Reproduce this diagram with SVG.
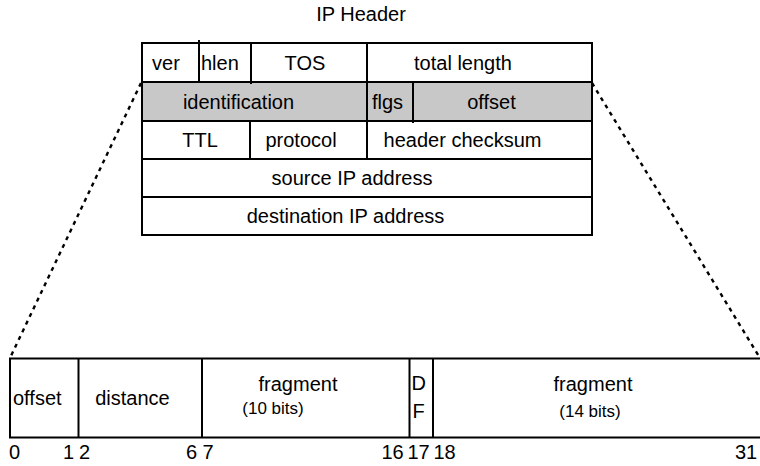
<svg xmlns="http://www.w3.org/2000/svg" width="760" height="466" viewBox="0 0 760 466">
  <style>
    text { font-family: "Liberation Sans", Arial, sans-serif; font-size: 20px; fill: #000; }
    .c { text-anchor: middle; }
    .small { font-size: 17px; }
    .box { fill: #fff; stroke: #000; stroke-width: 2; }
    .shade { fill: #c8c8c8; stroke: #000; stroke-width: 2; }
    .div { stroke: #000; stroke-width: 2; fill: none; }
    .zoom { stroke: #000; stroke-width: 2.4; stroke-dasharray: 4 4.5; fill: none; }
  </style>

  <!-- title -->
  <g id="title">
    <text x="361" y="21" class="c">IP Header</text>
  </g>

  <!-- IP header table -->
  <g id="ip-header">
    <rect class="box" x="142" y="43" width="450" height="192"/>
    <rect class="shade" x="142" y="82" width="450" height="39"/>
    <line class="div" x1="142" y1="159" x2="592" y2="159"/>
    <line class="div" x1="142" y1="197" x2="592" y2="197"/>

    <g id="row-1">
      <line class="div" x1="199" y1="40" x2="199" y2="82"/>
      <line class="div" x1="251" y1="43" x2="251" y2="84"/>
      <line class="div" x1="367" y1="43" x2="367" y2="159"/>
      <text x="166" y="69.5" class="c">ver</text>
      <text x="201" y="69.5">hlen</text>
      <text x="305" y="69.5" class="c">TOS</text>
      <text x="463" y="69.5" class="c">total length</text>
    </g>

    <g id="row-2">
      <line class="div" x1="413" y1="82" x2="413" y2="123"/>
      <text x="238.5" y="108.5" class="c">identification</text>
      <text x="372" y="108.5">flgs</text>
      <text x="491.5" y="108.5" class="c">offset</text>
    </g>

    <g id="row-3">
      <line class="div" x1="250" y1="121" x2="250" y2="160"/>
      <text x="200" y="147" class="c">TTL</text>
      <text x="301" y="147" class="c">protocol</text>
      <text x="462.5" y="147" class="c">header checksum</text>
    </g>

    <g id="row-4">
      <text x="352" y="185" class="c">source IP address</text>
    </g>

    <g id="row-5">
      <text x="345.5" y="223" class="c">destination IP address</text>
    </g>
  </g>

  <!-- projection lines from the flags/offset row to the expanded field -->
  <g id="connectors">
    <line class="zoom" x1="141" y1="83" x2="10" y2="358"/>
    <line class="zoom" x1="592" y1="83" x2="760" y2="358"/>
  </g>

  <!-- expanded 32-bit field -->
  <g id="expanded-field">
    <rect class="box" x="10" y="358.5" width="760" height="79"/>

    <g id="f-offset">
      <line class="div" x1="78.5" y1="358.5" x2="78.5" y2="437.5"/>
      <text x="13" y="405">offset</text>
    </g>
    <g id="f-distance">
      <line class="div" x1="202" y1="358.5" x2="202" y2="437.5"/>
      <text x="132.5" y="405" class="c">distance</text>
    </g>
    <g id="f-fragment-10">
      <line class="div" x1="409.5" y1="358.5" x2="409.5" y2="437.5"/>
      <text x="298" y="391" class="c">fragment</text>
      <text x="273" y="414" class="c small">(10 bits)</text>
    </g>
    <g id="f-df">
      <line class="div" x1="433" y1="358.5" x2="433" y2="437.5"/>
      <text x="411.5" y="390">D</text>
      <text x="412.5" y="418">F</text>
    </g>
    <g id="f-fragment-14">
      <text x="593" y="391" class="c">fragment</text>
      <text x="590" y="417" class="c small">(14 bits)</text>
    </g>
  </g>

  <!-- bit positions -->
  <g id="bit-labels">
    <text x="9" y="458.5">0</text>
    <text x="63" y="458.5">1</text>
    <text x="79" y="458.5">2</text>
    <text x="186" y="458.5">6</text>
    <text x="202.5" y="458.5">7</text>
    <text x="381.5" y="458.5">16</text>
    <text x="407.5" y="458.5">17</text>
    <text x="433.5" y="458.5">18</text>
    <text x="735" y="458.5">31</text>
  </g>
</svg>
